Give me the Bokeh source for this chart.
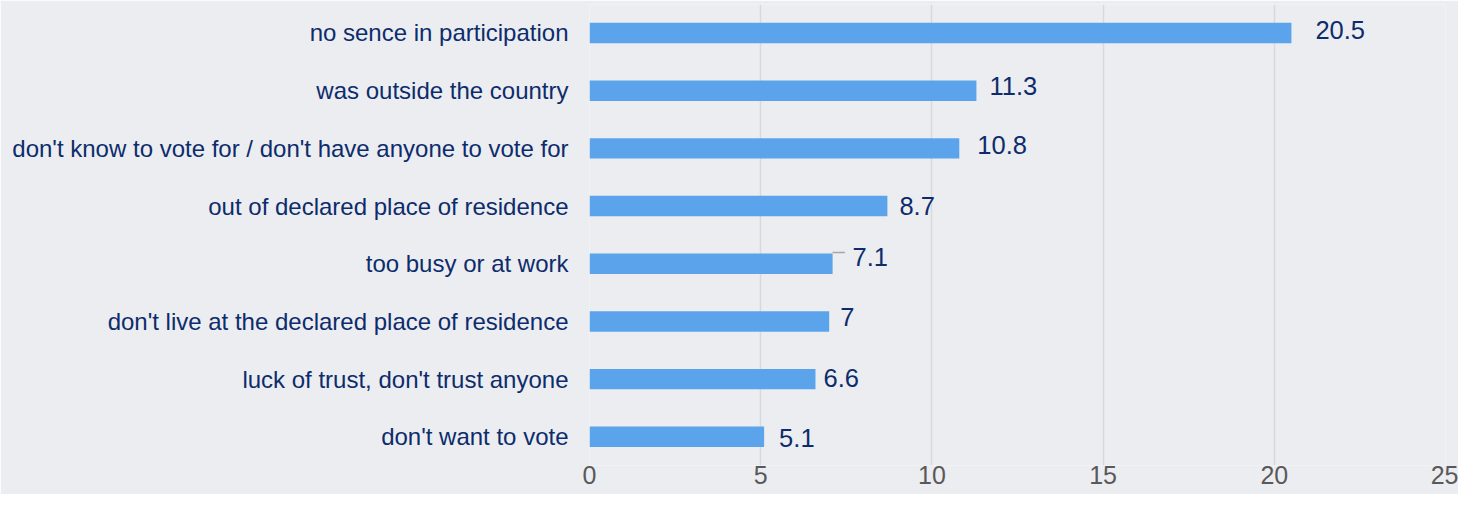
from bokeh.plotting import figure
from bokeh.models import ColumnDataSource, FixedTicker, Range1d
from bokeh.core.properties import value
from bokeh.embed import file_html
from bokeh.resources import INLINE

# ---- data (top to bottom as in the chart) ----
categories = [
    "no sence in participation",
    "was outside the country",
    "don't know to vote for / don't have anyone to vote for",
    "out of declared place of residence",
    "too busy or at work",
    "don't live at the declared place of residence",
    "luck of trust, don't trust anyone",
    "don't want to vote",
]
values = [20.5, 11.3, 10.8, 8.7, 7.1, 7.0, 6.6, 5.1]
value_labels = ["20.5", "11.3", "10.8", "8.7", "7.1", "7", "6.6", "5.1"]
x_ticks = [0, 5, 10, 15, 20, 25]

# ---- styling ----
label_dx = [24, 13, 18, 12, 20, 11, 8, 15]   # px offset of value labels
label_dy = [3, 5, 3, 0, 7, 4, 1, -1]         # px, positive = up
BG = "#ECEDF1"
BAR = "#5BA4EC"
NAVY = "#0D2C6C"
FONT = "Liberation Sans"
BAR_H = 0.354

n = len(categories)
ypos = [n - 1 - i for i in range(n)]
src = ColumnDataSource(dict(
    y=ypos, v=values, lbl=value_labels, dx=label_dx,
    dy=[-d for d in label_dy],
))

p = figure(width=1458, height=494, output_backend="svg", toolbar_location=None,
           x_range=Range1d(0, 25), y_range=Range1d(-0.497, 7.494),
           min_border_left=589, min_border_right=13, min_border_top=4,
           min_border_bottom=29)
p.background_fill_color = BG
p.border_fill_color = BG
p.outline_line_color = None

p.hbar(y="y", left=0, right="v", height=BAR_H, source=src,
       fill_color=BAR, line_color=None)

# leader line for the "7.1" label
k = value_labels.index("7.1")
p.segment(x0=[values[k]], x1=[values[k] + 0.36],
          y0=[ypos[k] + BAR_H / 2 + 0.02], y1=[ypos[k] + BAR_H / 2 + 0.02],
          line_color="#A6A6A6", line_width=1.5)

p.text(x="v", y="y", text="lbl", x_offset="dx", y_offset="dy", source=src,
       text_align="left", text_baseline="middle",
       text_font=value(FONT), text_font_size="25.5px", text_color=NAVY)

# x axis
p.xaxis.ticker = FixedTicker(ticks=x_ticks)
p.xaxis.axis_line_color = None
p.xaxis.major_tick_line_color = None
p.xaxis.minor_tick_line_color = None
p.xaxis.major_tick_out = 0
p.xaxis.major_tick_in = 0
p.xaxis.major_label_standoff = 0
p.xaxis.major_label_text_font = FONT
p.xaxis.major_label_text_font_size = "25px"
p.xaxis.major_label_text_color = "#595959"

# y axis (categories)
p.yaxis.ticker = FixedTicker(ticks=ypos)
p.yaxis.major_label_overrides = {yy: c for yy, c in zip(ypos, categories)}
p.yaxis.axis_line_color = None
p.yaxis.major_tick_line_color = None
p.yaxis.minor_tick_line_color = None
p.yaxis.major_tick_out = 0
p.yaxis.major_tick_in = 0
p.yaxis.major_label_standoff = 21
p.yaxis.major_label_text_font = FONT
p.yaxis.major_label_text_font_size = "24px"
p.yaxis.major_label_text_color = NAVY

p.xgrid.grid_line_color = "#D9D9D9"
p.xgrid.grid_line_width = 1.5
p.ygrid.grid_line_color = None

open("out.html", "w").write(file_html(p, INLINE))
